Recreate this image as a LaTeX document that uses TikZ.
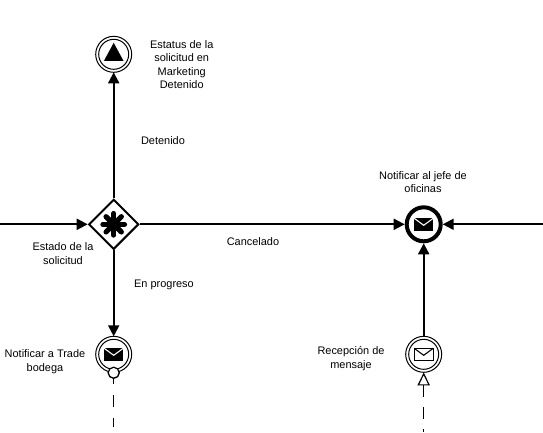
\documentclass[tikz,border=0pt]{standalone}
\usepackage{fontspec}
\setmainfont{Liberation Sans}
\usetikzlibrary{arrows.meta,shapes.geometric,calc}
\tikzset{
  flow/.style={line width=2pt,-{Triangle[length=11pt,width=11pt]}},
  msgline/.style={line width=1.4pt,dash pattern=on 12pt off 11pt},
  label/.style={font=\fontsize{10.95}{13.4}\selectfont,align=center,inner sep=0pt,text=black},
  ringouter/.style={circle,draw=black,line width=1pt,minimum size=36pt,inner sep=0pt,outer sep=0pt,fill=white},
  ringinner/.style={circle,draw=black,line width=1pt,minimum size=30pt,inner sep=0pt,fill=white},
  thickevent/.style={circle,draw=black,line width=4pt,minimum size=34pt,inner sep=0pt,outer sep=2pt,fill=white},
  gatewaybox/.style={diamond,draw=black,line width=2pt,minimum width=50pt,minimum height=50pt,inner sep=0pt,outer sep=1pt,fill=white,aspect=1},
  smallring/.style={circle,draw=black,line width=1.2pt,minimum size=11pt,inner sep=0pt,fill=white},
  flapline/.style={draw=white,line width=1.1pt},
}
\newcommand{\blackenvelope}[1]{%
  \fill[black] ($(#1.center)+(-9.5,-6)$) rectangle ($(#1.center)+(9.5,6.5)$);
  \draw[flapline] ($(#1.center)+(-9.5,-6)$) -- ($(#1.center)+(0,1)$) -- ($(#1.center)+(9.5,-6)$);
}
\begin{document}
\begin{tikzpicture}[x=1pt,y=-1pt]
\useasboundingbox (0,0) rectangle (543,432);
% free ends
\coordinate (inL) at (0,224.3);
\coordinate (inR) at (543,224.3);
\coordinate (endA) at (113.7,427);
\coordinate (endB) at (423.7,432);
% dashed message flows first
\node[smallring] (sr) at (113.7,372.7) {};
\draw[msgline,dash phase=7.2pt] (sr.south) -- (endA);
\draw[msgline,dash pattern=on 11.5pt off 10.5pt] (423.7,385) -- (endB);
% events
\node[ringouter] (top) at (113.7,54.3) {};
\node[ringinner] (topi) at (top.center) {};
\fill[black] ($(top.center)+(0,-11.5)$) -- ($(top.center)+(9.8,6.6)$) -- ($(top.center)+(-9.8,6.6)$) -- cycle;
\node[gatewaybox] (gw) at (113.7,224.3) {};
\foreach \a in {0,45,90,135}{
  \draw[line width=5.2pt,black,line cap=round] ($(gw.center)+(\a:10.8pt)$) -- ($(gw.center)+(\a+180:10.8pt)$);
}
\fill[black] (gw.center) circle (7pt);
\node[ringouter] (trade) at (113.7,354.3) {};
\node[ringinner] (tradei) at (trade.center) {};
\blackenvelope{trade}
\node[smallring] (sr2) at (sr.center) {};
\node[thickevent] (jefe) at (423.7,224.3) {};
\blackenvelope{jefe}
\node[ringouter] (recep) at (423.7,354.3) {};
\node[ringinner] (recepi) at (recep.center) {};
\draw[black,line width=1.1pt,fill=white] ($(recep.center)+(-9.5,-6)$) rectangle ($(recep.center)+(9.5,6.5)$);
\draw[black,line width=1.1pt] ($(recep.center)+(-9.5,-6)$) -- ($(recep.center)+(0,1)$) -- ($(recep.center)+(9.5,-6)$);
\node[draw=black,fill=white,line width=1.2pt,isosceles triangle,shape border rotate=90,isosceles triangle apex angle=52,minimum height=11pt,minimum width=10.5pt,inner sep=0pt,anchor=apex] (tri) at (423.7,372.5) {};
% flows
\draw[flow] (inL) -- (gw);
\draw[flow] (gw) -- (top);
\draw[flow] (gw) -- (trade);
\draw[flow] (gw) -- (jefe);
\draw[flow] (inR) -- (jefe);
\draw[flow] (recep) -- (jefe);
% labels
\node[label] (l1) at (181.7,64.5) {Estatus de la\\solicitud en\\Marketing\\Detenido};
\node[label] (l2) at (163,140.5) {Detenido};
\node[label] (l3) at (253,241.5) {Cancelado};
\node[label] (l4) at (164,284.5) {En progreso};
\node[label] (l5) at (63,253.5) {Estado de la\\solicitud};
\node[label] (l6) at (423,182) {Notificar al jefe de\\oficinas};
\node[label] (l7) at (45,361.5) {Notificar a Trade\\bodega};
\node[label] (l8) at (351,358.5) {Recepción de\\mensaje};
\end{tikzpicture}
\end{document}
